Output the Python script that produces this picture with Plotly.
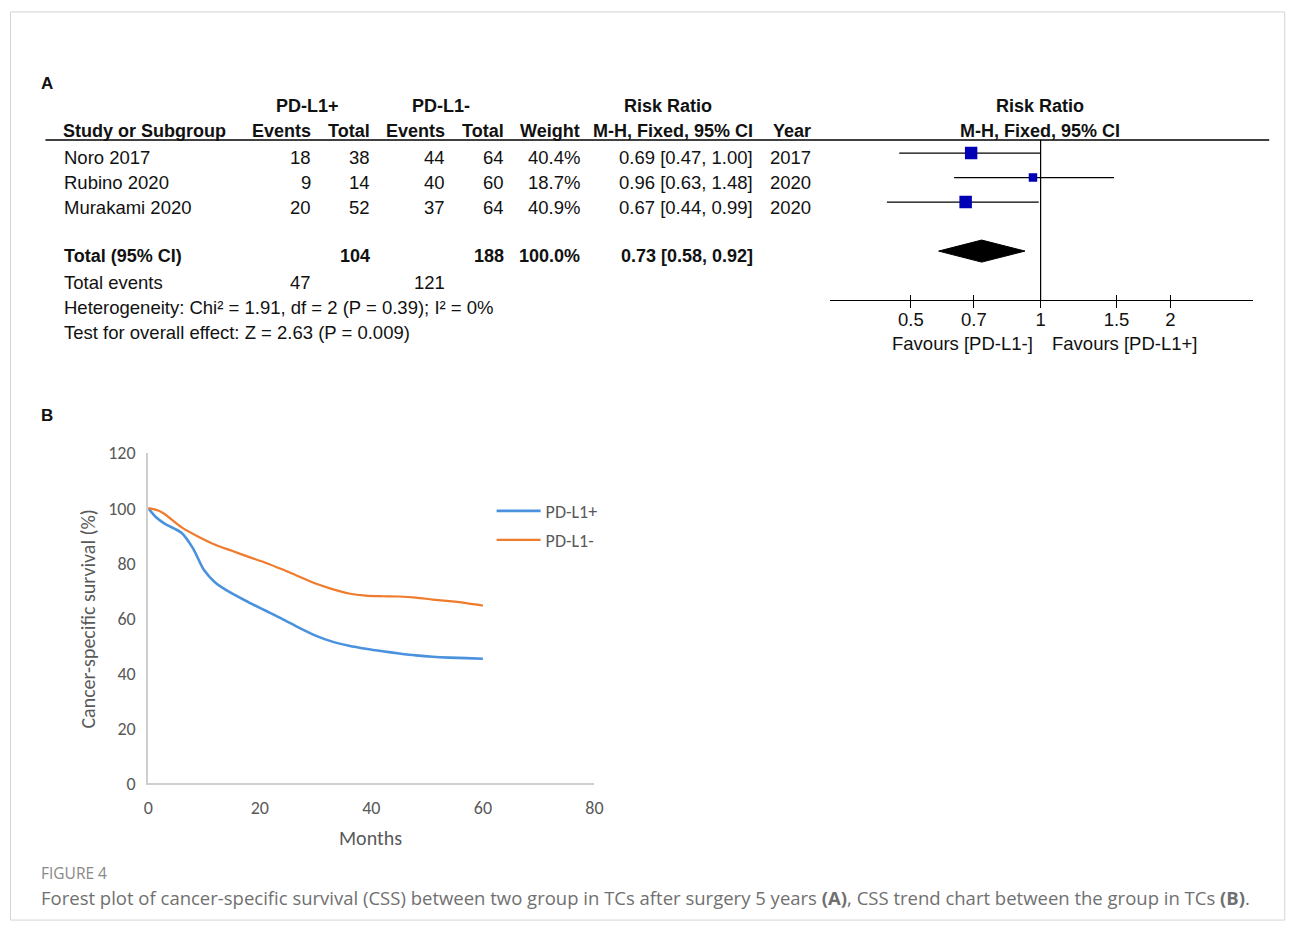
import plotly.graph_objects as go

W, H = 1295, 932
# the photographed page comes out slightly shrunk; compensate positions
AX, BX = 4.5, 0.991
AY, BY = 11.0, 0.976
def px(x): return ((x - AX) / BX) / W
def py(y): return 1 - ((y - AY) / BY) / H

# ---------------- Forest plot data (panel A) ----------------
studies = ["Noro 2017", "Rubino 2020", "Murakami 2020"]
pos_events = [18, 9, 20]
pos_total = [38, 14, 52]
neg_events = [44, 40, 37]
neg_total = [64, 60, 64]
weights = [40.4, 18.7, 40.9]
rr = [0.69, 0.96, 0.67]
rr_low = [0.47, 0.63, 0.44]
rr_high = [1.00, 1.48, 0.99]
years = [2017, 2020, 2020]

total_label = "Total (95% CI)"
total_pos = 104
total_neg = 188
total_weight = 100.0
total_rr = 0.73
total_low = 0.58
total_high = 0.92
total_events_pos = 47
total_events_neg = 121
heterogeneity = "Heterogeneity: Chi² = 1.91, df = 2 (P = 0.39); I² = 0%"
overall_effect = "Test for overall effect: Z = 2.63 (P = 0.009)"
forest_ticks = [0.5, 0.7, 1, 1.5, 2]
forest_ticktext = ["0.5", "0.7", "1", "1.5", "2"]
null_effect = 1
fav_left = "Favours [PD-L1-]"
fav_right = "Favours [PD-L1+]"

# ---------------- Survival data (panel B) ----------------
months_pos = [0, 1.5, 3, 6, 8, 10, 12, 15, 18, 21, 24, 27, 30, 33, 36, 39, 42, 45, 48, 51, 54, 57, 60]
css_pos = [100, 96.5, 94.3, 91.0, 85.5, 77.5, 73.0, 69.0, 65.8, 62.8, 59.8, 56.6, 53.7, 51.5, 50.0, 48.9, 48.0, 47.2, 46.5, 46.0, 45.7, 45.5, 45.3]
months_neg = [0, 2, 3, 6, 9, 12, 15, 18, 21, 24, 27, 30, 33, 36, 39, 42, 45, 48, 51, 54, 57, 60]
css_neg = [100, 99.0, 97.8, 93.0, 89.6, 86.7, 84.5, 82.3, 80.2, 77.8, 75.2, 72.6, 70.6, 69.0, 68.2, 68.0, 67.9, 67.5, 66.8, 66.2, 65.5, 64.6]
series_names = ["PD-L1+", "PD-L1-"]

# ---------------- styles ----------------
TBL = "Liberation Sans, Arial, sans-serif"
XL = "Carlito, Lato, sans-serif"
CAP = "Open Sans, sans-serif"
FS = 18.5
FSB = 18
BLUE_SQ = "#0000B4"

rows = [0, 1, 2]
total_row = 4
y_top, y_bot = -0.53, 6.0

fig = go.Figure()

# CI whiskers
ci_x, ci_y = [], []
for r, lo, hi in zip(rows, rr_low, rr_high):
    ci_x += [lo, hi, None]
    ci_y += [r, r, None]
fig.add_trace(go.Scatter(x=ci_x, y=ci_y, mode="lines", line=dict(color="black", width=1.3),
                         xaxis="x2", yaxis="y2", showlegend=False, hoverinfo="skip"))
# null effect line
fig.add_trace(go.Scatter(x=[null_effect, null_effect], y=[y_top, y_bot], mode="lines",
                         line=dict(color="black", width=1.2), xaxis="x2", yaxis="y2",
                         showlegend=False, hoverinfo="skip"))
# squares
fig.add_trace(go.Scatter(x=rr, y=rows, mode="markers",
                         marker=dict(symbol="square", color=BLUE_SQ, opacity=1,
                                     size=[1.95 * w ** 0.5 for w in weights], line=dict(width=0)),
                         xaxis="x2", yaxis="y2", showlegend=False))
# diamond
dh = 0.45
fig.add_trace(go.Scatter(x=[total_low, total_rr, total_high, total_rr, total_low],
                         y=[total_row, total_row - dh, total_row, total_row + dh, total_row],
                         mode="lines", fill="toself", fillcolor="black",
                         line=dict(color="black", width=1), xaxis="x2", yaxis="y2",
                         showlegend=False, hoverinfo="skip"))
# dummy trace on overlay axis for inside ticks
fig.add_trace(go.Scatter(x=[null_effect], y=[None], mode="markers", xaxis="x3", yaxis="y2",
                         showlegend=False, hoverinfo="skip"))

# survival lines
fig.add_trace(go.Scatter(x=months_pos, y=css_pos, mode="lines", name=series_names[0],
                         line=dict(color="#4A92DE", width=2.6, shape="spline", smoothing=0.8),
                         xaxis="x", yaxis="y", legend="legend"))
fig.add_trace(go.Scatter(x=months_neg, y=css_neg, mode="lines", name=series_names[1],
                         line=dict(color="#EF7B2D", width=2.2, shape="spline", smoothing=0.8),
                         xaxis="x", yaxis="y", legend="legend2"))

ann = []
def T(x, y, text, anchor="left", size=FS, bold=False, color="#111", family=TBL):
    if bold:
        text = "<b>" + text + "</b>"
        if size == FS:
            size = FSB
    ann.append(dict(x=px(x), y=py(y), xref="paper", yref="paper", text=text, showarrow=False,
                    xanchor=anchor, yanchor="middle", font=dict(family=family, size=size, color=color)))

# Panel labels
T(39, 83, "A", bold=True, size=17)
T(39, 415, "B", bold=True, size=17)

# Table headers
T(308, 106, "PD-L1+", "center", bold=True)
T(441, 106, "PD-L1-", "center", bold=True)
T(669, 106, "Risk Ratio", "center", bold=True)
T(1041, 106, "Risk Ratio", "center", bold=True)
T(61, 131, "Study or Subgroup", "left", bold=True)
col_right = [313, 372, 447, 506, 583, 756, 814]
for xr, h in zip(col_right, ["Events", "Total", "Events", "Total", "Weight", "M-H, Fixed, 95% CI", "Year"]):
    T(xr, 131, h, "right", bold=True)
T(1041, 131, "M-H, Fixed, 95% CI", "center", bold=True)

# Study rows
for i, s in enumerate(studies):
    yy = 157 + 25 * i
    T(62, yy, s, "left")
    vals = [str(pos_events[i]), str(pos_total[i]), str(neg_events[i]), str(neg_total[i]),
            f"{weights[i]:.1f}%", f"{rr[i]:.2f} [{rr_low[i]:.2f}, {rr_high[i]:.2f}]", str(years[i])]
    for xr, v in zip(col_right, vals):
        T(xr, yy, v, "right")

# Total rows
T(62, 256, total_label, "left", bold=True)
T(col_right[1], 256, str(total_pos), "right", bold=True)
T(col_right[3], 256, str(total_neg), "right", bold=True)
T(col_right[4], 256, f"{total_weight:.1f}%", "right", bold=True)
T(col_right[5], 256, f"{total_rr:.2f} [{total_low:.2f}, {total_high:.2f}]", "right", bold=True)
T(62, 282, "Total events", "left")
T(col_right[0], 282, str(total_events_pos), "right")
T(col_right[2], 282, str(total_events_neg), "right")
T(62, 307, heterogeneity, "left")
T(62, 332, overall_effect, "left")

# Favours labels
T(1036, 343, fav_left, "right")
T(1051, 343, fav_right, "left")

# Survival axis titles
ann.append(dict(x=px(88), y=py(618), xref="paper", yref="paper", text="Cancer-specific survival (%)",
                showarrow=False, textangle=-90, xanchor="center", yanchor="middle",
                font=dict(family=XL, size=20, color="#595959")))
T(371, 838, "Months", "center", size=20, color="#595959", family=XL)

# Caption
T(39, 873, "FIGURE 4", "left", size=15.5, color="#888888", family=CAP)
T(39, 897, "Forest plot of cancer-specific survival (CSS) between two group in TCs after surgery 5 years "
           "<b>(A)</b>, CSS trend chart between the group in TCs <b>(B)</b>.", "left", size=18.5,
  color="#707070", family=CAP)

def clamp(v): return min(max(v, 0.001), 0.999)
shapes = [
    dict(type="line", xref="paper", yref="paper", x0=px(45), x1=px(1271), y0=py(140), y1=py(140),
         line=dict(color="black", width=1.5)),
    dict(type="rect", xref="paper", yref="paper", x0=clamp(px(10)), x1=clamp(px(1293)),
         y0=clamp(py(929)), y1=clamp(py(8)), line=dict(color="#d4d4d4", width=1)),
]

log_range = [-0.4886, 0.4932]
leg_common = dict(xanchor="left", yanchor="middle", bgcolor="rgba(0,0,0,0)",
                  font=dict(family=XL, size=18, color="#595959"), itemwidth=44)

fig.update_layout(
    width=W, height=H, autosize=False,
    margin=dict(l=0, r=0, t=0, b=0),
    paper_bgcolor="white", plot_bgcolor="white",
    annotations=ann, shapes=shapes,
    xaxis=dict(domain=[px(148), px(595)], anchor="y", range=[0, 80], tickvals=[0, 20, 40, 60, 80],
               showline=True, linecolor="#cfcfcf", linewidth=1.5, showgrid=False, zeroline=False,
               ticks="", ticklabelstandoff=7, tickfont=dict(family=XL, size=18, color="#595959")),
    yaxis=dict(domain=[py(783), py(453)], anchor="x", range=[0, 120], tickvals=[0, 20, 40, 60, 80, 100, 120],
               showline=True, linecolor="#cfcfcf", linewidth=2, showgrid=False, zeroline=False,
               ticks="", ticklabelstandoff=7, tickfont=dict(family=XL, size=18, color="#595959")),
    xaxis2=dict(domain=[px(831), px(1255)], anchor="y2", type="log", range=log_range,
                tickvals=forest_ticks, ticktext=forest_ticktext, ticks="outside", ticklen=7,
                tickcolor="black", tickwidth=1.2, showline=True, linecolor="black", linewidth=1.3,
                showgrid=False, zeroline=False, ticklabelstandoff=-4,
                tickfont=dict(family=TBL, size=FS, color="#111")),
    xaxis3=dict(overlaying="x2", anchor="y2", type="log", range=log_range, tickvals=forest_ticks,
                ticks="inside", ticklen=5, tickcolor="black", tickwidth=1.2, showticklabels=False,
                showline=False, showgrid=False, zeroline=False),
    yaxis2=dict(domain=[py(300), py(140)], anchor="x2", range=[y_bot, y_top], visible=False),
    legend=dict(x=px(492), y=py(511), **leg_common),
    legend2=dict(x=px(492), y=py(540), **leg_common),
)

fig.write_html("out.html", config={"displayModeBar": False},
               post_script="document.body.style.margin='0px';document.body.style.overflow='hidden';")
